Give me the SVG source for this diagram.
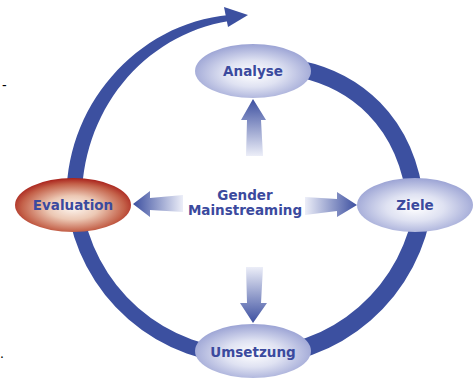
<svg xmlns="http://www.w3.org/2000/svg" width="474" height="378" viewBox="0 0 474 378">
<defs>
<radialGradient id="gBlue" cx="50%" cy="55%" r="55%">
<stop offset="0" stop-color="#ffffff"/>
<stop offset="0.45" stop-color="#dfe2f2"/>
<stop offset="1" stop-color="#9ba3d4"/>
</radialGradient>
<radialGradient id="gRed" cx="50%" cy="55%" r="55%">
<stop offset="0" stop-color="#fdf6f0"/>
<stop offset="0.4" stop-color="#ecc8b4"/>
<stop offset="0.8" stop-color="#c4624a"/>
<stop offset="1" stop-color="#a8201a"/>
</radialGradient>
<linearGradient id="aUp" x1="0" y1="1" x2="0" y2="0">
<stop offset="0" stop-color="#eceef8"/>
<stop offset="1" stop-color="#3c4fa0"/>
</linearGradient>
<linearGradient id="aDown" x1="0" y1="0" x2="0" y2="1">
<stop offset="0" stop-color="#eceef8"/>
<stop offset="1" stop-color="#3c4fa0"/>
</linearGradient>
<linearGradient id="aLeft" x1="1" y1="0" x2="0" y2="0">
<stop offset="0" stop-color="#eceef8"/>
<stop offset="1" stop-color="#3c4fa0"/>
</linearGradient>
<linearGradient id="aRight" x1="0" y1="0" x2="1" y2="0">
<stop offset="0" stop-color="#eceef8"/>
<stop offset="1" stop-color="#3c4fa0"/>
</linearGradient>
</defs>
<style>
.ring{fill:none;stroke:#3c50a0}
.lbl{font-family:"DejaVu Sans",Verdana,sans-serif;font-weight:bold;font-size:13.5px;fill:#3b4a9e;text-anchor:middle}
.frag{font-family:"Liberation Sans",Arial,sans-serif;font-size:14px;fill:#000}
</style>
<rect width="474" height="378" fill="#ffffff"/>
<text class="frag" x="2" y="90">-</text>
<text class="frag" x="0" y="358">.</text>
<g id="connectors">
<path class="ring" stroke-width="17" d="M300,69 C352,80 407,118 416,205"/>
<path class="ring" stroke-width="18" d="M423.4,205 A176,176 0 0 1 249,357"/>
<path class="ring" stroke-width="15" d="M249,357 A176,176 0 0 1 74.6,205"/>
<path fill="#3c50a0" d="M67,205 C62,108 137,23 229,15 L229,21 C143,35 80,112 82,205 Z"/>
<polygon fill="#3c50a0" points="248,15 224,7 228,27"/>
<polygon fill="url(#aUp)" points="246,156 263,156 261,120 266,120 253,99 241,120 247,120"/>
<polygon fill="url(#aDown)" points="246,267 263,267 261,303 267,303 253,323 240,303 247,303"/>
<polygon fill="url(#aLeft)" points="183,195 183,212 150,210 150,217 133,204 150,191 150,198"/>
<polygon fill="url(#aRight)" points="305,197 305,215 337,211 337,217 357,205 337,192 337,199"/>
</g>
<g id="analyse">
<ellipse cx="253" cy="71" rx="58" ry="27" fill="url(#gBlue)"/>
<text class="lbl" x="253" y="76">Analyse</text>
</g>
<g id="ziele">
<ellipse cx="415" cy="205" rx="58" ry="27" fill="url(#gBlue)"/>
<text class="lbl" x="415" y="210">Ziele</text>
</g>
<g id="umsetzung">
<ellipse cx="253" cy="351" rx="58" ry="27" fill="url(#gBlue)"/>
<text class="lbl" x="253" y="357">Umsetzung</text>
</g>
<g id="evaluation">
<ellipse cx="73" cy="205" rx="58" ry="27" fill="url(#gRed)"/>
<text class="lbl" x="73" y="210">Evaluation</text>
</g>
<g id="gender-mainstreaming">
<text class="lbl" x="245" y="200">Gender</text>
<text class="lbl" x="245" y="215">Mainstreaming</text>
</g>
</svg>
